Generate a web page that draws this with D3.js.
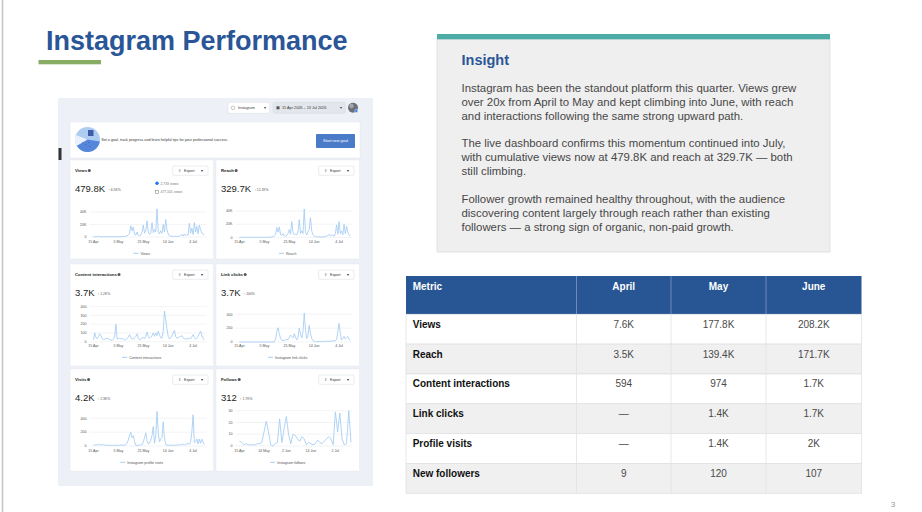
<!DOCTYPE html>
<html>
<head>
<meta charset="utf-8">
<script src="https://cdn.jsdelivr.net/npm/d3@7"></script>
<style>
  body { margin: 0; background: #fff; }
  svg { display: block; font-family: "Liberation Sans", Arial, sans-serif; }
</style>
</head>
<body>
<svg id="slide" width="922" height="512"></svg>
<script>
// ---------- slide text ----------
const slideTitle = 'Instagram Performance';
const insightTitle = 'Insight';
const insightParagraphs = [
  ['Instagram has been the standout platform this quarter. Views grew',
   'over 20x from April to May and kept climbing into June, with reach',
   'and interactions following the same strong upward path.'],
  ['The live dashboard confirms this momentum continued into July,',
   'with cumulative views now at 479.8K and reach at 329.7K — both',
   'still climbing.'],
  ['Follower growth remained healthy throughout, with the audience',
   'discovering content largely through reach rather than existing',
   'followers — a strong sign of organic, non-paid growth.']
];

// ---------- table ----------
const tableHeaders = ['Metric', 'April', 'May', 'June'];
const metrics = ['Views', 'Reach', 'Content interactions', 'Link clicks', 'Profile visits', 'New followers'];
const aprilValues = ['7.6K', '3.5K', '594', '—', '—', '9'];
const mayValues = ['177.8K', '139.4K', '974', '1.4K', '1.4K', '120'];
const juneValues = ['208.2K', '171.7K', '1.7K', '1.7K', '2K', '107'];

// ---------- dashboard daily series, 15 Apr – 13 Jul ----------
const dayTickLabels = ['15 Apr', '5 May', '25 May', '14 Jun', '4 Jul'];

const viewsK = [0.3,0.5,0.4,0.6,1.2,0.5,0.4,0.3,0.5,0.4,0.6,0.3,0.4,0.5,0.3,0.4,
  0.4,0.3,0.5,0.4,0.6,0.4,0.7,0.5,0.8,0.7,1.2,2.0,3.5,
  6,18,10,16,4,3,8,3,2,3,8,19,6,10,26,8,4,6,
  23,7,12,8,45,9,5,10,6,20,8,28,12,5,2,1.5,1.2,1,1.3,1,0.8,1.2,1,3,4,1.5,5,2,4,3,
  22,6,14,4,23,8,17,5,19,12,6,5,3];

const reachK = [0.2,0.3,0.2,0.3,0.6,0.3,0.2,0.2,0.3,0.2,0.3,0.2,0.2,0.3,0.2,0.2,
  0.3,0.2,0.3,0.3,0.4,0.3,0.5,0.4,0.6,0.5,0.9,1.5,2.5,
  5,15,8,16,4,3,6,2.5,2,3,6,12,5,24,7,4,5,4,
  8,27,6,10,6,43,8,4,9,12,30,10,4,2,1.5,1.2,1,1,0.8,0.8,1,0.9,1.5,2,3,5,2,4,3,2,
  6,19,5,24,6,10,4,20,6,17,8,4,2];

const interactions = [20,100,45,35,60,90,70,35,25,30,35,40,35,25,20,15,
  30,60,200,30,35,40,30,40,25,20,25,35,55,80,45,30,30,45,60,90,40,20,30,40,50,35,60,110,60,40,50,
  70,100,60,100,70,120,80,45,40,120,350,250,150,60,30,45,70,100,130,60,40,45,55,60,70,45,30,35,30,35,
  40,35,55,80,50,30,40,60,90,120,70,40,20];

const linkClicks = [0,0,0,0,0,0,0,0,0,0,0,0,0,0,0,0,
  0,0,0,0,0,0,0,0,0,0,0,2,5,
  40,150,205,120,50,25,20,25,30,40,35,60,100,80,60,120,70,30,
  60,200,110,60,150,415,180,50,90,240,120,50,20,10,8,5,6,10,8,5,6,8,10,12,8,10,15,12,18,20,
  15,40,150,270,120,30,50,80,45,60,80,40,20];

const profileVisits = [10,15,20,15,25,20,15,20,15,10,15,10,12,10,8,10,
  8,10,12,10,8,10,15,12,10,15,20,40,90,
  160,200,120,150,60,10,8,10,12,15,20,60,120,190,80,30,40,80,
  150,280,40,150,500,200,60,100,120,350,120,20,15,10,12,10,15,10,8,12,10,15,20,15,30,20,15,20,40,30,
  25,60,200,450,50,60,100,30,100,40,100,60,20];

// follows is sampled on its own axis
const follows = [4,3,1,2,1,1,1,1,2,2,3,12,21,12,1,0,2,3,23,3,15,25,10,2,10,9,6,4,8,6,
  1,3,2,1,2,5,3,2,4,6,8,6,1,29,12,28,6,1,2,30,3];
const followTickLabels = ['15 Apr', '14 May', '2 Jun', '14 Jun', '2 Jul'];
const followTickIndex = [0, 11, 21, 32, 43];

const cardTitles = ['Views', 'Reach', 'Content interactions', 'Link clicks', 'Visits', 'Follows'];
const cardTotals = ['479.8K', '329.7K', '3.7K', '3.7K', '4.2K', '312'];
const cardChanges = ['↑ 6.5K%', '↑ 12.2K%', '↑ 1.2K%', '↑ 100%', '↑ 2.3K%', '↑ 1.7K%'];
const cardLegends = ['Views', 'Reach', 'Content interactions', 'Instagram link clicks',
  'Instagram profile visits', 'Instagram follows'];
const cardTicks = [[0, 20, 40], [0, 20, 40], [0, 100, 200, 300, 400], [0, 200, 400], [0, 200, 400], [0, 10, 20, 30]];
const cardSeries = [viewsK, reachK, interactions, linkClicks, profileVisits, follows];

// ---------- drawing ----------
const svg = d3.select('#slide');
const blue = '#2a5597';

svg.append('rect').attr('width', 922).attr('height', 512).attr('fill', '#fff');
svg.append('line').attr('x1', 2.5).attr('x2', 2.5).attr('y1', 0).attr('y2', 512)
  .attr('stroke', '#c4c4c4').attr('stroke-width', 1.5);

svg.append('text').attr('x', 46).attr('y', 50).text(slideTitle)
  .attr('font-size', 27).attr('font-weight', 700).attr('fill', blue);
svg.append('rect').attr('x', 38.5).attr('y', 60).attr('width', 62.5).attr('height', 4.3).attr('fill', '#87ac63');

// insight box
svg.append('rect').attr('x', 437).attr('y', 39).attr('width', 393).attr('height', 213)
  .attr('fill', '#efefef').attr('stroke', '#dcdcdc').attr('stroke-width', 0.8);
svg.append('rect').attr('x', 437).attr('y', 34).attr('width', 393).attr('height', 5.3).attr('fill', '#4eaca7');
svg.append('text').attr('x', 461.5).attr('y', 65).text(insightTitle)
  .attr('font-size', 14.5).attr('font-weight', 700).attr('fill', blue);
const paraTop = [92.3, 147.3, 202.7];
insightParagraphs.forEach((lines, p) => {
  lines.forEach((ln, i) => {
    svg.append('text').attr('x', 461.5).attr('y', paraTop[p] + i * 13.9).text(ln)
      .attr('font-size', 11.4).attr('fill', '#474747');
  });
});

// table
const colEdges = [406, 576.5, 671, 766, 861.5];
const header = svg.append('g');
header.append('rect').attr('x', colEdges[0]).attr('y', 276).attr('width', colEdges[4] - colEdges[0])
  .attr('height', 38.3).attr('fill', '#285593');
tableHeaders.forEach((h, i) => {
  if (i > 0) header.append('line').attr('x1', colEdges[i]).attr('x2', colEdges[i]).attr('y1', 276).attr('y2', 314.3)
    .attr('stroke', '#7d98c4').attr('stroke-width', 0.8);
  header.append('text').text(h).attr('y', 290)
    .attr('x', i === 0 ? 412.7 : (colEdges[i] + colEdges[i + 1]) / 2)
    .attr('text-anchor', i === 0 ? 'start' : 'middle')
    .attr('font-size', 10).attr('font-weight', 700).attr('fill', '#fff');
});
const rowY = d3.scaleBand().domain(metrics).range([314.3, 493.3]);
const cols = [metrics, aprilValues, mayValues, juneValues];
metrics.forEach((m, r) => {
  const y = rowY(m);
  svg.append('rect').attr('x', colEdges[0]).attr('y', y).attr('width', colEdges[4] - colEdges[0])
    .attr('height', rowY.bandwidth()).attr('fill', r % 2 ? '#f0f0f0' : '#fff')
    .attr('stroke', '#e2e2e2').attr('stroke-width', 0.8);
  cols.forEach((c, i) => {
    if (i > 0) svg.append('line').attr('x1', colEdges[i]).attr('x2', colEdges[i]).attr('y1', y).attr('y2', y + rowY.bandwidth())
      .attr('stroke', '#e2e2e2').attr('stroke-width', 0.8);
    svg.append('text').text(c[r]).attr('y', y + 13.4)
      .attr('x', i === 0 ? 412.7 : (colEdges[i] + colEdges[i + 1]) / 2)
      .attr('text-anchor', i === 0 ? 'start' : 'middle')
      .attr('font-size', 10).attr('font-weight', i === 0 ? 700 : 400)
      .attr('fill', i === 0 ? '#111' : '#4a4a4a');
  });
});

svg.append('text').attr('x', 893).attr('y', 507).text('3').attr('text-anchor', 'middle')
  .attr('font-size', 8).attr('fill', '#9a9a9a');

// ---------- dashboard screenshot ----------
const dash = svg.append('g');
const ink = '#1c1e21';
const lineBlue = '#a3cbf3';
dash.append('rect').attr('x', 58).attr('y', 98).attr('width', 315).attr('height', 388).attr('fill', '#edf0f6');
dash.append('rect').attr('x', 58.5).attr('y', 148).attr('width', 3).attr('height', 12).attr('fill', '#333');

// top controls
dash.append('rect').attr('x', 228).attr('y', 102.3).attr('width', 41.7).attr('height', 11).attr('rx', 2)
  .attr('fill', '#fff').attr('stroke', '#cfd3da').attr('stroke-width', 0.4);
dash.append('circle').attr('cx', 233).attr('cy', 107.8).attr('r', 1.8).attr('fill', 'none')
  .attr('stroke', '#777').attr('stroke-width', 0.4);
dash.append('text').attr('x', 238).attr('y', 109.2).text('Instagram').attr('font-size', 3.8).attr('fill', '#444');
dash.append('text').attr('x', 264).attr('y', 109.2).text('▾').attr('font-size', 4).attr('fill', '#444');
dash.append('rect').attr('x', 273).attr('y', 102.3).attr('width', 72.3).attr('height', 11).attr('rx', 2)
  .attr('fill', '#e3e6ec').attr('stroke', '#cfd3da').attr('stroke-width', 0.4);
dash.append('rect').attr('x', 276.5).attr('y', 106.3).attr('width', 3).attr('height', 3).attr('fill', '#555');
dash.append('text').attr('x', 282).attr('y', 109.2).text('15 Apr 2026 – 13 Jul 2026').attr('font-size', 3.8).attr('fill', '#333');
dash.append('text').attr('x', 339.5).attr('y', 109.2).text('▾').attr('font-size', 4).attr('fill', '#444');
dash.append('circle').attr('cx', 353).attr('cy', 107.7).attr('r', 5).attr('fill', '#6c717a');
dash.append('circle').attr('cx', 351.5).attr('cy', 106).attr('r', 2.2).attr('fill', '#a3a7ad');
dash.append('circle').attr('cx', 356.3).attr('cy', 111).attr('r', 1.6).attr('fill', '#3b82f6').attr('stroke', '#fff').attr('stroke-width', 0.4);

// goal banner
dash.append('rect').attr('x', 70).attr('y', 122).attr('width', 290).attr('height', 36).attr('fill', '#fff')
  .attr('stroke', '#e1e4ea').attr('stroke-width', 0.4);
const pie = dash.append('g').attr('transform', 'translate(87.5,139.5)');
const arc = d3.arc().innerRadius(0).outerRadius(12.5);
pie.append('circle').attr('r', 12.5).attr('fill', '#aecbf2');
pie.append('path').attr('d', arc({ startAngle: Math.PI * 0.55, endAngle: Math.PI * 1.33 })).attr('fill', '#5586da');
pie.append('path').attr('d', arc({ startAngle: Math.PI * 1.33, endAngle: Math.PI * 1.62 })).attr('fill', '#e9f1fc');
pie.append('rect').attr('x', 0.5).attr('y', -9.5).attr('width', 5.5).attr('height', 6).attr('fill', '#3d5da8');
[[-2, 5], [2, 7], [-5, 3], [1, 3]].forEach(p => pie.append('circle').attr('cx', p[0]).attr('cy', p[1]).attr('r', 0.4).attr('fill', '#1e3f8a'));
dash.append('text').attr('x', 101.3).attr('y', 141).attr('font-size', 3.7).attr('fill', '#333')
  .text('Set a goal, track progress and learn helpful tips for your professional success.');
dash.append('rect').attr('x', 316).attr('y', 134).attr('width', 39).attr('height', 14).attr('rx', 1).attr('fill', '#4a7bc8');
dash.append('text').attr('x', 335.5).attr('y', 142.3).attr('text-anchor', 'middle').attr('font-size', 3.9)
  .attr('fill', '#fff').text('Start new goal');

// cards
const colX = [70, 216];
const rowTop = [160, 264, 369];
const rowH = [99, 102, 102];
const plotTop = [52, 51, 42.7, 50.3, 49.3, 41.7];
const plotBottom = [77, 77.5, 77.7, 78, 77, 77];
const dayStart = new Date(2026, 3, 15);
const days = d3.timeDay.range(dayStart, d3.timeDay.offset(dayStart, viewsK.length));
const parseDay = d3.timeParse('%d %b %Y');
const dayTicks = dayTickLabels.map(s => parseDay(s + ' 2026'));

cardTitles.forEach((title, k) => {
  const x0 = colX[k % 2], t = rowTop[Math.floor(k / 2)];
  const g = dash.append('g');
  g.append('rect').attr('x', x0).attr('y', t).attr('width', 143.5).attr('height', rowH[Math.floor(k / 2)])
    .attr('fill', '#fff').attr('stroke', '#e1e4ea').attr('stroke-width', 0.4);
  const tt = g.append('text').attr('x', x0 + 5).attr('y', t + 12).text(title)
    .attr('font-size', 4.3).attr('font-weight', 700).attr('fill', ink);
  const tw = tt.node().getComputedTextLength();
  g.append('circle').attr('cx', x0 + 5 + tw + 2.2).attr('cy', t + 10.6).attr('r', 1.5).attr('fill', '#555');

  // export button
  g.append('rect').attr('x', x0 + 102.7).attr('y', t + 6).attr('width', 35.3).attr('height', 9.3).attr('rx', 1.2)
    .attr('fill', '#fff').attr('stroke', '#ccd0d5').attr('stroke-width', 0.4);
  g.append('text').attr('x', x0 + 108).attr('y', t + 12.1).text('⇪').attr('font-size', 3.6).attr('fill', '#555');
  g.append('text').attr('x', x0 + 114).attr('y', t + 12.1).text('Export').attr('font-size', 3.6).attr('fill', '#333');
  g.append('text').attr('x', x0 + 131).attr('y', t + 12.3).text('▾').attr('font-size', 4).attr('fill', '#333');

  // totals
  const big = g.append('text').attr('x', x0 + 5).attr('y', t + 31.5).text(cardTotals[k])
    .attr('font-size', 9.5).attr('fill', ink);
  const bw = big.node().getComputedTextLength();
  g.append('text').attr('x', x0 + 5 + bw + 3).attr('y', t + 30.5).text(cardChanges[k])
    .attr('font-size', 3.4).attr('fill', '#555');

  if (k === 0) {
    g.append('circle').attr('cx', x0 + 87).attr('cy', t + 23.3).attr('r', 1.7).attr('fill', '#1877f2');
    g.append('text').attr('x', x0 + 90.5).attr('y', t + 24.6).text('2,733 views').attr('font-size', 3.4).attr('fill', '#777');
    g.append('rect').attr('x', x0 + 85.4).attr('y', t + 30.3).attr('width', 3.2).attr('height', 3.2)
      .attr('fill', 'none').attr('stroke', '#777').attr('stroke-width', 0.5);
    g.append('text').attr('x', x0 + 90.5).attr('y', t + 33.3).text('477,101 views').attr('font-size', 3.4).attr('fill', '#777');
  }

  const values = cardSeries[k];
  const ticks = cardTicks[k];
  const left = x0 + 23.5, right = x0 + 134.3;
  const y = d3.scaleLinear().domain([0, d3.max(ticks)]).range([t + plotBottom[k], t + plotTop[k]]);

  let x, xs, tickPos, tickText;
  if (k === 5) {
    x = d3.scalePoint().domain(d3.range(values.length)).range([left, right + 0.7]);
    xs = values.map((v, i) => x(i));
    tickPos = followTickIndex.map(i => x(i));
    tickText = followTickLabels;
  } else {
    x = d3.scaleTime().domain([days[0], days[days.length - 1]]).range([left, right]);
    xs = days.map(d => x(d));
    tickPos = dayTicks.map(d => x(d));
    tickText = dayTickLabels;
  }

  // gridlines + y labels
  g.selectAll('.grid').data(ticks).join('line')
    .attr('x1', left - 4).attr('x2', right + 2.5)
    .attr('y1', d => y(d)).attr('y2', d => y(d))
    .attr('stroke', '#e3e6eb').attr('stroke-width', 0.45);
  g.selectAll('.ylab').data(ticks).join('text')
    .attr('x', left - 7).attr('y', d => y(d) + 1.2).attr('text-anchor', 'end')
    .attr('font-size', 3.6).attr('fill', '#555')
    .text(d => d === 0 ? '0' : (k < 2 ? d + 'K' : d));

  // x labels
  tickPos.forEach((px, i) => {
    g.append('text').attr('x', px).attr('y', t + 83.4).attr('text-anchor', 'middle')
      .attr('font-size', 3.6).attr('fill', '#555').text(tickText[i]);
  });

  // series line
  const line = d3.line().x((d, i) => xs[i]).y(d => y(d));
  g.append('path').datum(values).attr('d', line).attr('fill', 'none')
    .attr('stroke', lineBlue).attr('stroke-width', 0.85).attr('stroke-linejoin', 'round');

  // legend
  const lg = g.append('g');
  const lt = lg.append('text').attr('x', 7).attr('y', t + 94.5).text(cardLegends[k])
    .attr('font-size', 3.6).attr('fill', '#555');
  lg.append('line').attr('x1', 0).attr('x2', 5).attr('y1', t + 93.3).attr('y2', t + 93.3)
    .attr('stroke', lineBlue).attr('stroke-width', 1);
  const lw = 7 + lt.node().getComputedTextLength();
  lg.attr('transform', `translate(${x0 + 71.7 - lw / 2},0)`);
});
</script>
</body>
</html>
